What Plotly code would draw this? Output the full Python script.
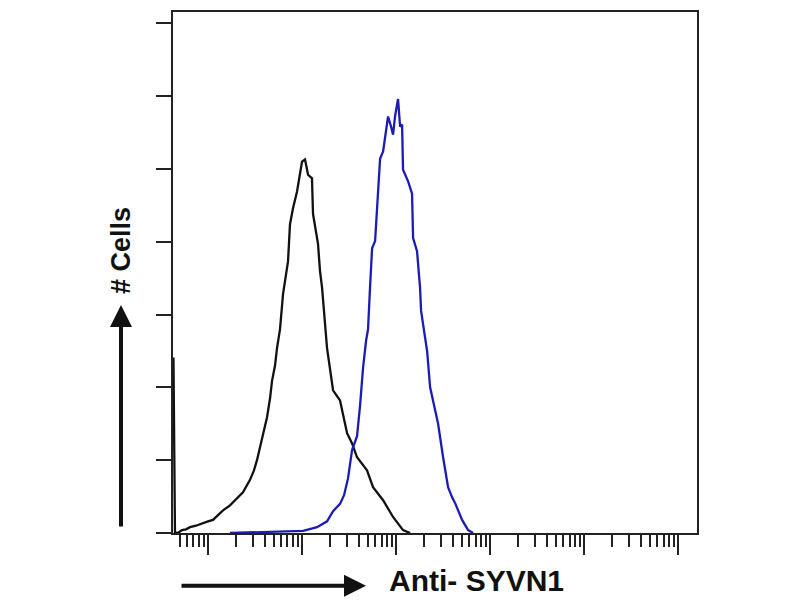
import numpy as np
import plotly.graph_objects as go

# log10 fluorescence intensity (decades) and cell counts (arbitrary units)
control_log_fl = [-0.367, -0.351, -0.319, -0.277, -0.234, -0.191, -0.128, -0.053, 0.0, 0.053,
                  0.106, 0.160, 0.234, 0.309, 0.372, 0.447, 0.489, 0.521, 0.553, 0.596,
                  0.628, 0.660, 0.681, 0.713, 0.734, 0.766, 0.798, 0.851, 0.872, 0.904,
                  0.947, 1.0, 1.032, 1.064, 1.106, 1.117, 1.170, 1.191, 1.213, 1.266,
                  1.330, 1.404, 1.479, 1.532, 1.585, 1.691, 1.755, 1.862, 1.968, 2.074, 2.149]
control_cells = [2.41, 0.01, 0.0, 0.04, 0.05, 0.08, 0.10, 0.14, 0.16, 0.18,
                 0.25, 0.31, 0.38, 0.48, 0.56, 0.73, 0.86, 1.00, 1.18, 1.38,
                 1.59, 1.85, 2.09, 2.30, 2.54, 2.80, 3.28, 3.73, 4.24, 4.46,
                 4.69, 5.10, 5.13, 4.92, 4.87, 4.38, 3.97, 3.60, 3.37, 2.54,
                 1.96, 1.82, 1.37, 1.23, 1.04, 0.86, 0.63, 0.45, 0.22, 0.04, 0.0]

syvn1_log_fl = [0.234, 0.840, 1.011, 1.160, 1.266, 1.330, 1.404, 1.447, 1.489, 1.532,
                1.585, 1.617, 1.649, 1.681, 1.702, 1.723, 1.745, 1.777, 1.809, 1.830,
                1.862, 1.894, 1.915, 1.947, 1.968, 1.989, 2.011, 2.021, 2.043, 2.064,
                2.074, 2.128, 2.170, 2.181, 2.223, 2.255, 2.266, 2.298, 2.330, 2.362,
                2.404, 2.447, 2.500, 2.553, 2.596, 2.628, 2.702, 2.766, 2.819]
syvn1_cells = [0.0, 0.03, 0.03, 0.08, 0.16, 0.30, 0.40, 0.52, 0.75, 1.14,
               1.33, 1.75, 2.27, 2.64, 2.80, 3.37, 3.91, 4.01, 4.65, 5.14,
               5.24, 5.55, 5.72, 5.58, 5.47, 5.72, 5.92, 5.96, 5.58, 5.61,
               4.99, 4.83, 4.66, 4.05, 3.87, 3.37, 3.05, 2.78, 2.50, 2.00,
               1.75, 1.50, 1.04, 0.63, 0.49, 0.41, 0.18, 0.04, 0.0]

major_decades = [0, 1, 2, 3, 4, 5]
minor_multipliers = [2, 3, 4, 5, 6, 7, 8, 9]
y_ticks = [0, 1, 2, 3, 4, 5, 6, 7]

x_range = [-0.372, 5.20]
y_range = [0, 7.155]

minor_vals = [d + np.log10(m) for d in [-1] + major_decades for m in minor_multipliers]
minor_vals = [float(v) for v in minor_vals if x_range[0] < v < x_range[1]]

fig = go.Figure()
fig.add_trace(go.Scatter(x=control_log_fl, y=control_cells, mode="lines",
                         line=dict(color="#111111", width=2.3), showlegend=False))
fig.add_trace(go.Scatter(x=syvn1_log_fl, y=syvn1_cells, mode="lines",
                         line=dict(color="rgb(28,28,180)", width=2.3), showlegend=False))

fig.update_xaxes(range=x_range, showgrid=False, zeroline=False, showline=True, mirror=True,
                 linecolor="#222222", linewidth=2, tickmode="array", tickvals=major_decades,
                 ticktext=["" for _ in major_decades], ticks="outside", ticklen=20, tickwidth=2,
                 tickcolor="#222222",
                 minor=dict(tickmode="array", tickvals=minor_vals, ticks="outside", ticklen=12,
                            tickwidth=2, tickcolor="#222222", showgrid=False))
fig.update_yaxes(range=y_range, showgrid=False, zeroline=False, showline=True, mirror=True,
                 linecolor="#222222", linewidth=2, tickmode="array", tickvals=y_ticks,
                 ticktext=["" for _ in y_ticks], ticks="outside", ticklen=15, tickwidth=2,
                 tickcolor="#222222")

W_PLOT = 524.0
H_PLOT = 523.0

def px(p):
    return (p - 173) / W_PLOT

def py(p):
    return (533 - p) / H_PLOT

fig.add_annotation(xref="paper", yref="paper", x=px(476), y=py(581), text="<b>Anti- SYVN1</b>",
                   showarrow=False, xanchor="center", yanchor="middle", borderpad=0,
                   font=dict(family="Liberation Sans, Arial", size=30, color="#111111"))
fig.add_annotation(xref="paper", yref="paper", x=px(121), y=py(250), text="<b># Cells</b>",
                   showarrow=False, textangle=-90, xanchor="center", yanchor="middle",
                   font=dict(family="Liberation Sans, Arial", size=27, color="#111111"))
# arrows
fig.add_annotation(xref="paper", yref="paper", x=px(366), y=py(586), ax=-186, ay=0,
                   axref="pixel", ayref="pixel", text="", showarrow=True, arrowhead=2,
                   arrowsize=1.1, arrowwidth=4, arrowcolor="#111111", standoff=0)
fig.add_annotation(xref="paper", yref="paper", x=px(121), y=py(304), ax=0, ay=223,
                   axref="pixel", ayref="pixel", text="", showarrow=True, arrowhead=2,
                   arrowsize=1.1, arrowwidth=4, arrowcolor="#111111", standoff=0)

fig.update_layout(width=800, height=600, margin=dict(l=165, r=111, t=2, b=75),
                  paper_bgcolor="white", plot_bgcolor="white")

fig.write_html("out.html")
